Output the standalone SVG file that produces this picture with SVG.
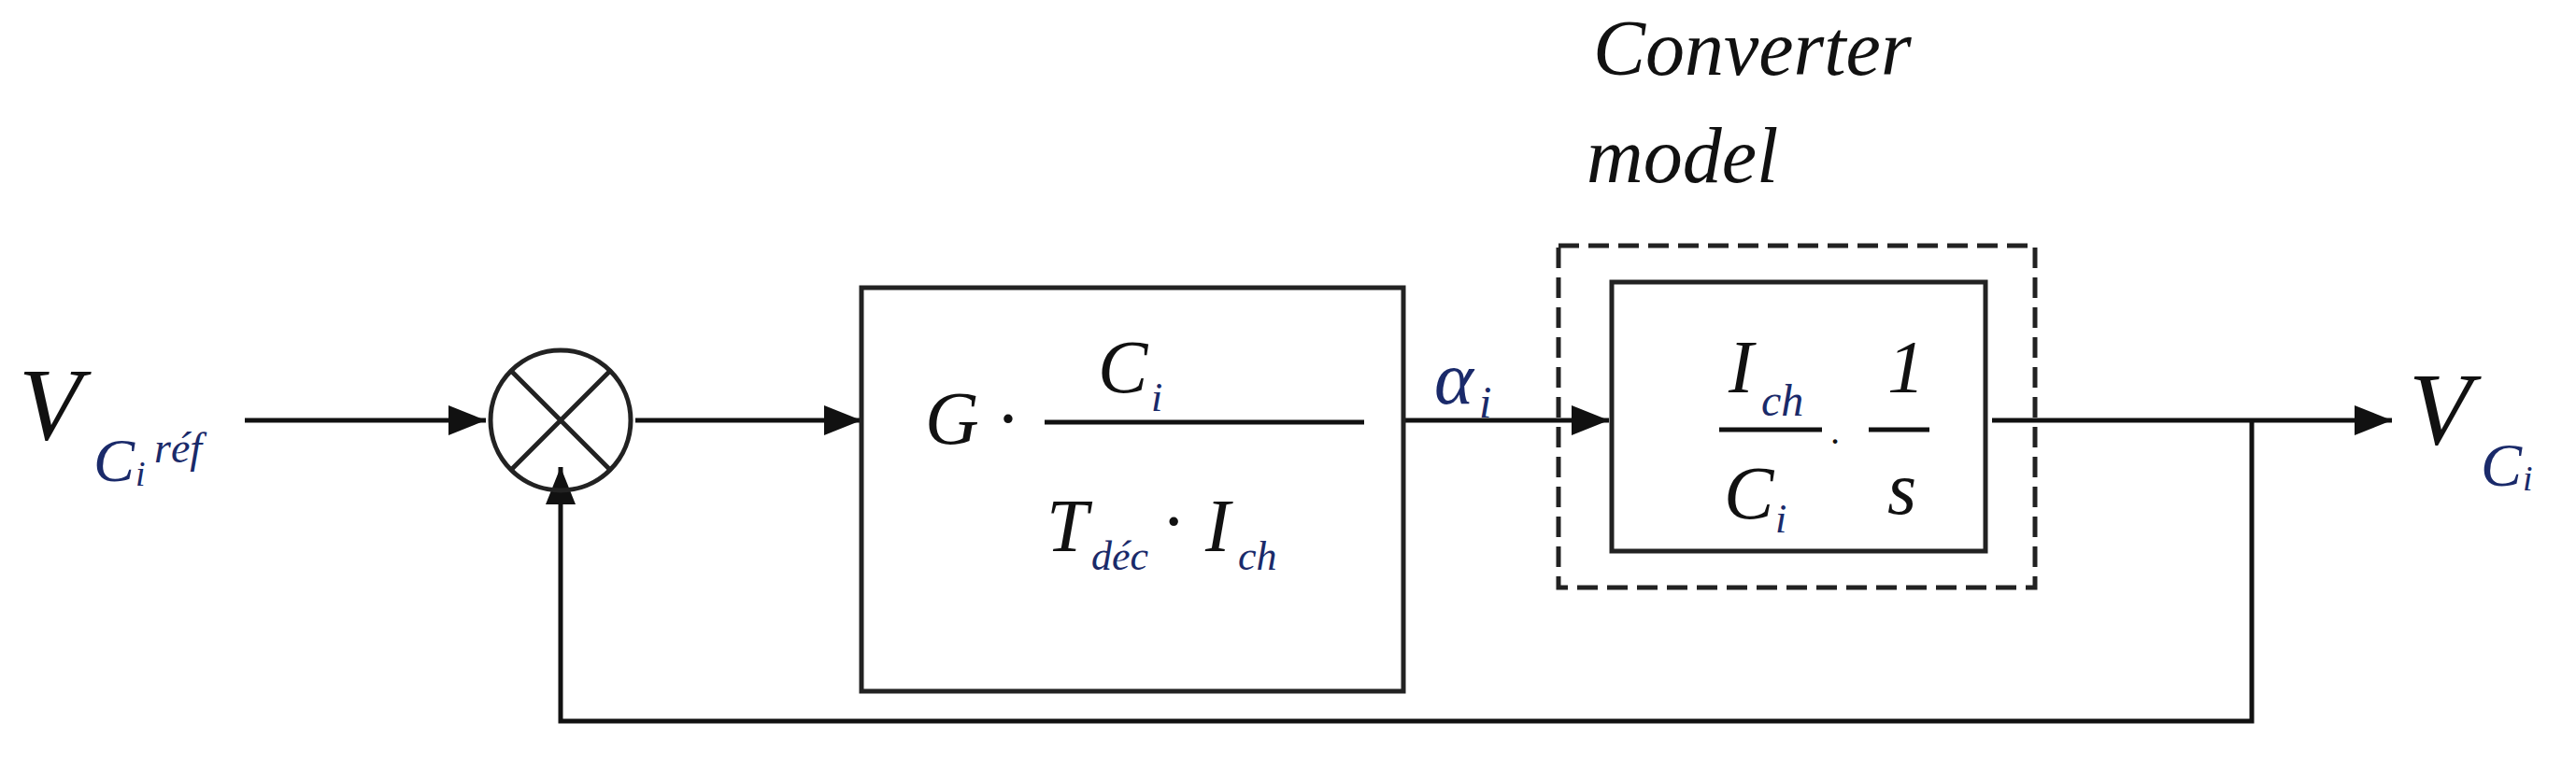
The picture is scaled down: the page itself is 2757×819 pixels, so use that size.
<svg xmlns="http://www.w3.org/2000/svg" width="2757" height="819" viewBox="0 0 2757 819">
<style>
.b{fill:none;stroke:#222;stroke-width:5}
.l{fill:none;stroke:#111;stroke-width:5}
.m{font-family:"Liberation Serif",serif;font-style:italic;fill:#111}
.s{font-family:"Liberation Serif",serif;font-style:italic;fill:#1a2a6a}
</style>
<defs>
<marker id="ar" markerWidth="40" markerHeight="32" refX="40" refY="16" orient="auto" markerUnits="userSpaceOnUse"><path d="M0,0L40,16L0,32z" fill="#111"/></marker></defs>
<rect width="2757" height="819" fill="#fff"/>
<g id="connectors">
<path class="l" d="M262,450H520" marker-end="url(#ar)"/>
<path class="l" d="M680,450H922" marker-end="url(#ar)"/>
<path class="l" d="M1502,450H1722" marker-end="url(#ar)"/>
<path class="l" d="M2132,450H2560" marker-end="url(#ar)"/>
<path class="l" d="M2410,450V772H600V500" marker-end="url(#ar)"/>
</g>
<g id="ref"><text class="m" x="20" y="470" font-size="110">V</text><text class="s" x="100" y="515" font-size="66">C</text><text class="s" x="145" y="520" font-size="38">i</text><text class="s" x="165" y="495" font-size="46">réf</text></g>
<g id="sum"><circle class="b" cx="600" cy="450" r="75" stroke-width="6"/><path class="b" d="M547,397L653,503M653,397L547,503"/></g>
<g id="gain"><rect class="b" x="922" y="308" width="580" height="432"/>
<text class="m" x="990" y="475" font-size="80">G ·</text>
<text class="m" x="1175" y="420" font-size="80">C</text><text class="s" x="1232" y="440" font-size="44">i</text>
<line class="l" x1="1118" y1="452" x2="1460" y2="452"/>
<text class="m" x="1120" y="590" font-size="80">T</text><text class="s" x="1168" y="610" font-size="44">déc</text>
<text class="m" x="1245" y="585" font-size="80">·</text>
<text class="m" x="1290" y="590" font-size="80">I</text><text class="s" x="1325" y="610" font-size="44">ch</text></g>
<text class="s" x="1535" y="432" font-size="80">α</text><text class="s" x="1583" y="447" font-size="48">i</text>
<g id="converter"><rect x="1668" y="263" width="510" height="366" fill="none" stroke="#222" stroke-width="5" stroke-dasharray="22,10"/>
<text class="m" x="1705" y="80" font-size="84">Converter</text>
<text class="m" x="1698" y="195" font-size="84">model</text>
<rect class="b" x="1725" y="302" width="400" height="288"/>
<text class="m" x="1850" y="420" font-size="80">I</text><text class="s" x="1885" y="445" font-size="48">ch</text>
<line class="l" x1="1840" y1="460" x2="1950" y2="460"/>
<text class="m" x="1960" y="475" font-size="40">.</text>
<text class="m" x="2020" y="420" font-size="80">1</text>
<line class="l" x1="2000" y1="460" x2="2065" y2="460"/>
<text class="m" x="1845" y="555" font-size="80">C</text><text class="s" x="1900" y="570" font-size="44">i</text>
<text class="m" x="2020" y="550" font-size="80">s</text></g>
<g id="out"><text class="m" x="2578" y="475" font-size="110">V</text><text class="s" x="2655" y="520" font-size="66">C</text><text class="s" x="2700" y="525" font-size="38">i</text></g>
</svg>
